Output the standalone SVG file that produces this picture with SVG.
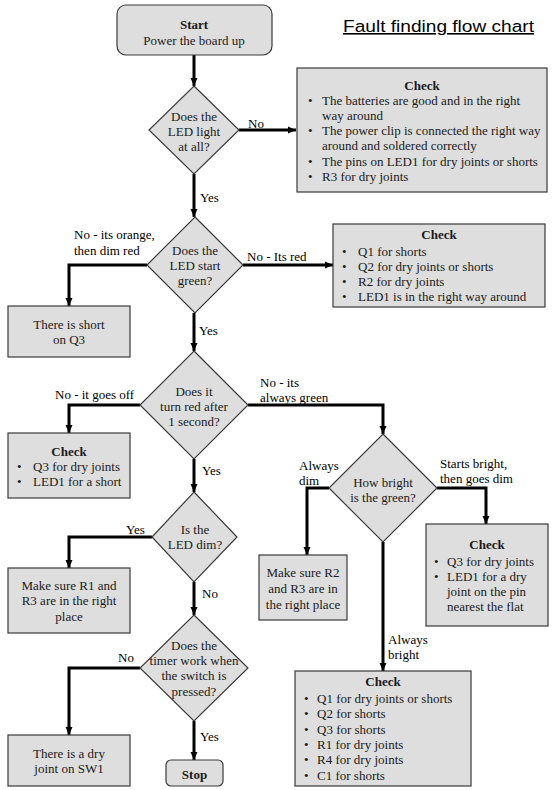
<svg xmlns="http://www.w3.org/2000/svg" width="555" height="790" viewBox="0 0 555 790">
<style>
.box{fill:#dedede;stroke:#3a3a3a;stroke-width:1.2}
.t{font-family:"Liberation Serif","Times New Roman",serif;font-size:13px;fill:#1a1a1a}
.c{text-anchor:middle}
.b{font-weight:bold}
.lbl{font-family:"Liberation Serif","Times New Roman",serif;font-size:13px;fill:#000}
.con{fill:none;stroke:#000;stroke-width:3;marker-end:url(#arr)}
</style>
<defs>
<marker id="arr" markerUnits="userSpaceOnUse" markerWidth="9" markerHeight="9" refX="8" refY="4" orient="auto">
<path d="M0,0.5 L8,4 L0,7.5 z" fill="#000"/>
</marker>
</defs>
<rect width="555" height="790" fill="#fff"/>
<text x="343" y="32" font-family="'Liberation Sans',Arial,sans-serif" font-size="16" textLength="191" lengthAdjust="spacingAndGlyphs" text-decoration="underline" fill="#000">Fault finding flow chart</text>

<g id="connectors">
<path class="con" d="M194,55 V86"/>
<path class="con" d="M239,130 H296"/>
<path class="con" d="M194,174 V217"/>
<path class="con" d="M243,265 H333"/>
<path class="con" d="M147,265 H69 V306"/>
<path class="con" d="M194,313 V351"/>
<path class="con" d="M140,405 H69 V433"/>
<path class="con" d="M248,405 H383 V434"/>
<path class="con" d="M194,459 V492"/>
<path class="con" d="M329,488 H307 V555"/>
<path class="con" d="M437,488 H486 V524"/>
<path class="con" d="M383,542 V671"/>
<path class="con" d="M152,537 H69 V568"/>
<path class="con" d="M194,582 V615"/>
<path class="con" d="M140,668 H69 V735"/>
<path class="con" d="M194,721 V760"/>
</g>

<g id="labels">
<text class="lbl" x="248" y="128">No</text>
<text class="lbl" x="200" y="202">Yes</text>
<text class="lbl" x="74" y="239">No - its orange,</text>
<text class="lbl" x="74" y="255">then dim red</text>
<text class="lbl" x="247" y="261">No - Its red</text>
<text class="lbl" x="199" y="335">Yes</text>
<text class="lbl" x="55" y="399">No - it goes off</text>
<text class="lbl" x="260" y="387">No - its</text>
<text class="lbl" x="260" y="402">always green</text>
<text class="lbl" x="202" y="475">Yes</text>
<text class="lbl" x="299" y="470">Always</text>
<text class="lbl" x="299" y="485">dim</text>
<text class="lbl" x="440" y="468">Starts bright,</text>
<text class="lbl" x="440" y="483">then goes dim</text>
<text class="lbl" x="126" y="534">Yes</text>
<text class="lbl" x="202" y="598">No</text>
<text class="lbl" x="118" y="662">No</text>
<text class="lbl" x="388" y="644">Always</text>
<text class="lbl" x="388" y="659">bright</text>
<text class="lbl" x="200" y="741">Yes</text>
</g>

<g id="start">
<rect class="box" x="117" y="5" width="155" height="50" rx="9"/>
<text class="t c b" x="194" y="29" font-size="14">Start</text>
<text class="t c" x="194" y="45">Power the board up</text>
</g>

<g id="d1">
<polygon class="box" points="194,86 239,130 194,174 149,130"/>
<text class="t c" x="194" y="121">Does the</text>
<text class="t c" x="194" y="136">LED light</text>
<text class="t c" x="194" y="151">at all?</text>
</g>

<g id="check1">
<rect class="box" x="297" y="68" width="250" height="124"/>
<text class="t c b" x="422" y="90">Check</text>
<text class="t" x="308" y="105">•</text><text class="t" x="322" y="105">The batteries are good and in the right</text>
<text class="t" x="322" y="120">way around</text>
<text class="t" x="308" y="135">•</text><text class="t" x="322" y="135">The power clip is connected the right way</text>
<text class="t" x="322" y="150">around and soldered correctly</text>
<text class="t" x="308" y="166">•</text><text class="t" x="322" y="166">The pins on LED1 for dry joints or shorts</text>
<text class="t" x="308" y="181">•</text><text class="t" x="322" y="181">R3 for dry joints</text>
</g>

<g id="d2">
<polygon class="box" points="195,217 243,265 195,313 147,265"/>
<text class="t c" x="195" y="255">Does the</text>
<text class="t c" x="195" y="270">LED start</text>
<text class="t c" x="195" y="285">green?</text>
</g>

<g id="check2">
<rect class="box" x="333" y="224" width="212" height="83"/>
<text class="t c b" x="439" y="239">Check</text>
<text class="t" x="342" y="256">•</text><text class="t" x="358" y="256">Q1 for shorts</text>
<text class="t" x="342" y="271">•</text><text class="t" x="358" y="271">Q2 for dry joints or shorts</text>
<text class="t" x="342" y="286">•</text><text class="t" x="358" y="286">R2 for dry joints</text>
<text class="t" x="342" y="301">•</text><text class="t" x="358" y="301">LED1 is in the right way around</text>
</g>

<g id="short-q3">
<rect class="box" x="8" y="306" width="122" height="51"/>
<text class="t c" x="69" y="329">There is short</text>
<text class="t c" x="69" y="344">on Q3</text>
</g>

<g id="d3">
<polygon class="box" points="194,351 248,405 194,459 140,405"/>
<text class="t c" x="194" y="396">Does it</text>
<text class="t c" x="194" y="411">turn red after</text>
<text class="t c" x="194" y="426">1 second?</text>
</g>

<g id="check3">
<rect class="box" x="8" y="433" width="122" height="65"/>
<text class="t c b" x="69" y="456">Check</text>
<text class="t" x="17" y="471">•</text><text class="t" x="33" y="471">Q3 for dry joints</text>
<text class="t" x="17" y="486">•</text><text class="t" x="33" y="486">LED1 for a short</text>
</g>

<g id="d4">
<polygon class="box" points="383,434 437,488 383,542 329,488"/>
<text class="t c" x="383" y="487">How bright</text>
<text class="t c" x="383" y="502">is the green?</text>
</g>

<g id="r2r3">
<rect class="box" x="259" y="555" width="88" height="65"/>
<text class="t c" x="303" y="577">Make sure R2</text>
<text class="t c" x="303" y="593">and R3 are in</text>
<text class="t c" x="303" y="609">the right place</text>
</g>

<g id="check4">
<rect class="box" x="426" y="524" width="122" height="102"/>
<text class="t c b" x="487" y="549">Check</text>
<text class="t" x="434" y="566">•</text><text class="t" x="447" y="566">Q3 for dry joints</text>
<text class="t" x="434" y="581">•</text><text class="t" x="447" y="581">LED1 for a dry</text>
<text class="t" x="447" y="596">joint on the pin</text>
<text class="t" x="447" y="611">nearest the flat</text>
</g>

<g id="check5">
<rect class="box" x="295" y="671" width="176" height="115"/>
<text class="t c b" x="383" y="686">Check</text>
<text class="t" x="304" y="703">•</text><text class="t" x="317" y="703">Q1 for dry joints or shorts</text>
<text class="t" x="304" y="718">•</text><text class="t" x="317" y="718">Q2 for shorts</text>
<text class="t" x="304" y="734">•</text><text class="t" x="317" y="734">Q3 for shorts</text>
<text class="t" x="304" y="749">•</text><text class="t" x="317" y="749">R1 for dry joints</text>
<text class="t" x="304" y="764">•</text><text class="t" x="317" y="764">R4 for dry joints</text>
<text class="t" x="304" y="780">•</text><text class="t" x="317" y="780">C1 for shorts</text>
</g>

<g id="d5">
<polygon class="box" points="194,492 237,537 194,582 152,537"/>
<text class="t c" x="195" y="534">Is the</text>
<text class="t c" x="195" y="549">LED dim?</text>
</g>

<g id="r1r3">
<rect class="box" x="8" y="568" width="122" height="65"/>
<text class="t c" x="69" y="590">Make sure R1 and</text>
<text class="t c" x="69" y="605">R3 are in the right</text>
<text class="t c" x="69" y="621">place</text>
</g>

<g id="d6">
<polygon class="box" points="194,615 248,668 194,721 140,668"/>
<text class="t c" x="194" y="650">Does the</text>
<text class="t c" x="194" y="665">timer work when</text>
<text class="t c" x="194" y="680">the switch is</text>
<text class="t c" x="194" y="696">pressed?</text>
</g>

<g id="sw1">
<rect class="box" x="8" y="735" width="122" height="51"/>
<text class="t c" x="69" y="758">There is a dry</text>
<text class="t c" x="69" y="773">joint on SW1</text>
</g>

<g id="stop">
<rect class="box" x="166" y="760" width="57" height="26" rx="5"/>
<text class="t c b" x="194.5" y="779" font-size="15">Stop</text>
</g>
</svg>
